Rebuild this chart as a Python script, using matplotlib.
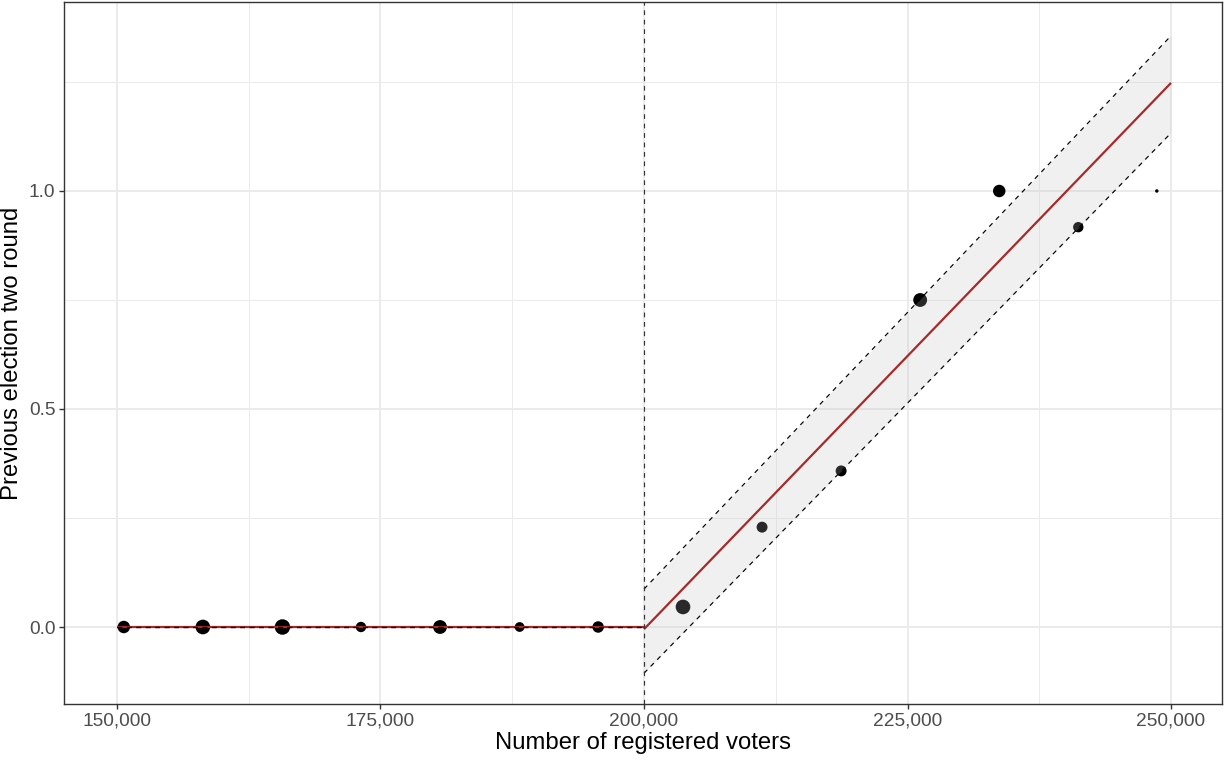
import matplotlib.pyplot as plt
from matplotlib.ticker import FuncFormatter, MultipleLocator
import numpy as np

# binned means (registered voters vs share two-round)
bin_x = [150650, 158150, 165700, 173150, 180650, 188200, 195650,
         203700, 211200, 218700, 226200, 233700, 241200, 248650]
bin_y = [0.0, 0.0, 0.0, 0.0, 0.0, 0.0, 0.0,
         0.046, 0.229, 0.358, 0.750, 1.0, 0.917, 1.0]
bin_n = [13, 18, 20, 9, 16, 8, 11, 18, 10, 10, 16, 13, 9, 1]

# fitted lines either side of the cutoff, with confidence bands
left_x = [150000, 200000]
left_fit = [0.0, 0.0]
left_lo = [0.0, 0.0]
left_hi = [0.0, 0.0]

right_x = [200000, 250000]
right_fit = [-0.005, 1.248]
right_lo = [-0.106, 1.133]
right_hi = [0.087, 1.356]

cutoff = 200000

plt.rcParams['font.family'] = ['Liberation Sans', 'DejaVu Sans']

fig = plt.figure(figsize=(12.25, 7.61), dpi=100)
ax = fig.add_axes([0.0522, 0.0749, 0.9454, 0.9225])

# points under the ribbon, like ggplot
sizes = 6.2 * np.array(bin_n)
ax.scatter(bin_x, bin_y, s=sizes, color='black', linewidths=0, zorder=3)

ax.fill_between(right_x, right_lo, right_hi, color='#BEBEBE', alpha=0.22,
                linewidth=0, zorder=4)

red = '#A52A2A'
dash = dict(color='black', lw=0.85, linestyle=(0, (4, 4)), zorder=6)
for xs, fit, lo, hi in [(left_x, left_fit, left_lo, left_hi),
                        (right_x, right_fit, right_lo, right_hi)]:
    ax.plot(xs, fit, color=red, lw=1.6, zorder=5, solid_capstyle='butt')
    ax.plot(xs, lo, **dash)
    ax.plot(xs, hi, **dash)

ax.axvline(cutoff, color='#333333', lw=0.85, linestyle=(0, (4, 4)), zorder=7)

ax.set_xlim(144972, 254839)
ax.set_ylim(-0.1766, 1.4335)

ax.xaxis.set_major_locator(MultipleLocator(25000))
ax.xaxis.set_minor_locator(MultipleLocator(12500))
ax.yaxis.set_major_locator(MultipleLocator(0.5))
ax.yaxis.set_minor_locator(MultipleLocator(0.25))
ax.xaxis.set_major_formatter(FuncFormatter(lambda v, p: f'{v:,.0f}'))
ax.yaxis.set_major_formatter(FuncFormatter(lambda v, p: f'{v:.1f}'))

ax.grid(which='major', color='#EBEBEB', lw=1.4, zorder=0)
ax.grid(which='minor', color='#EBEBEB', lw=0.7, zorder=0)
ax.set_axisbelow(True)

ax.tick_params(which='major', length=3.6, width=1.0, color='#333333',
               labelsize=13.8, labelcolor='#4D4D4D', pad=2.5)
ax.tick_params(which='minor', length=0)

for s in ax.spines.values():
    s.set_color('#333333')
    s.set_linewidth(1.0)

ax.set_xlabel('Number of registered voters', fontsize=17.2, labelpad=2)
ax.set_ylabel('Previous election two round', fontsize=17.2, labelpad=4)

fig.savefig('out.png', dpi=100)
